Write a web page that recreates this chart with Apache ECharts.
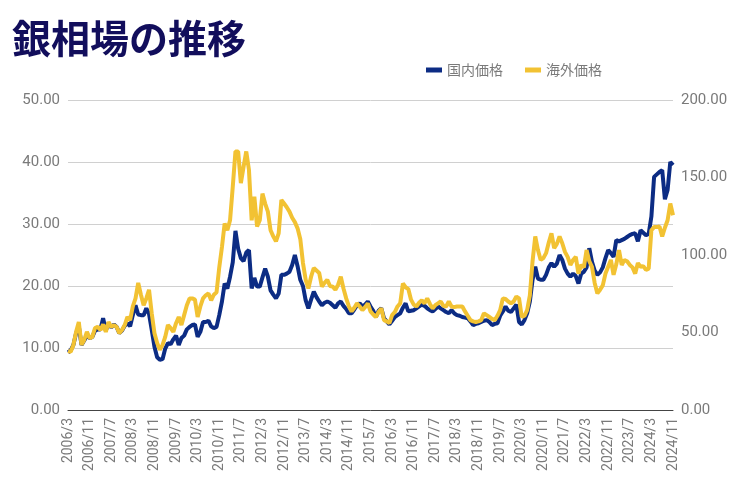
<!DOCTYPE html>
<html>
<head>
<meta charset="utf-8">
<script src="https://cdn.jsdelivr.net/npm/echarts@6/dist/echarts.min.js"></script>
<style>
html,body{margin:0;padding:0;background:#fff;}
#chart{width:750px;height:500px;}
</style>
</head>
<body>
<div id="chart"></div>
<script>
// Months from 2006/3 to 2024/11 (monthly categories)
var startYear = 2006, startMonth = 3, monthCount = 225;
var categories = [];
for (var k = 0; k < monthCount; k++) {
  var m = startMonth - 1 + k;
  categories.push((startYear + Math.floor(m / 12)) + '/' + (m % 12 + 1));
}

var seriesNames = ['国内価格', '海外価格'];

// 国内価格 (right axis, 0-200)
var domestic = [
  37.2,38.4,42.0,49.6,54.0,42.0,44.8,48.0,46.4,47.2,51.2,52.0,52.0,59.2,51.2,56.0,
  53.2,55.2,53.6,49.6,51.2,54.4,56.0,54.0,61.2,67.6,61.6,61.2,61.2,65.6,62.0,51.6,
  40.8,34.0,32.4,32.8,39.6,43.2,42.4,45.6,48.0,42.0,46.4,48.0,52.0,53.6,54.8,55.2,
  47.2,50.4,56.8,56.8,57.6,54.0,52.8,53.6,61.2,70.0,81.6,78.4,86.0,95.2,115.6,104.0,
  98.0,96.0,101.6,103.2,78.4,85.2,79.6,79.6,85.6,91.2,86.0,77.2,74.4,72.0,75.2,87.2,
  87.2,88.0,89.2,93.6,100.0,92.8,84.0,80.0,70.8,65.6,71.2,76.4,72.8,70.0,67.6,69.2,
  70.0,69.2,67.6,66.0,68.8,70.0,67.2,65.2,62.4,62.4,64.8,67.6,68.8,66.8,68.0,70.0,
  66.8,64.0,60.0,64.0,65.6,59.2,57.2,55.2,57.6,60.0,61.2,62.4,66.0,68.8,63.6,64.0,
  64.4,65.6,66.8,68.0,67.2,65.6,64.4,63.6,65.2,66.8,65.6,64.4,63.2,62.4,64.4,62.4,
  61.2,60.8,60.0,59.6,59.2,57.2,54.8,55.6,56.0,56.8,57.6,58.0,56.8,54.8,55.6,56.0,
  60.8,63.6,66.8,64.0,63.2,65.6,68.0,56.8,55.2,58.0,62.4,70.0,84.0,92.4,84.8,84.0,
  84.0,87.2,92.0,94.8,92.4,94.4,100.0,96.8,91.2,88.0,86.0,88.0,86.4,81.6,88.0,89.2,
  92.0,104.4,95.6,90.0,87.2,88.8,92.0,98.0,103.2,101.2,98.8,109.6,108.8,109.6,110.4,111.6,
  112.8,113.6,114.0,108.8,116.0,114.4,112.8,113.6,124.8,150.4,152.0,153.6,154.8,136.0,142.0,160.0,
  158.0
];

// 海外価格 (left axis, 0-50)
var overseas = [
  9.5,9.4,10.5,12.6,14.2,10.5,11.3,12.6,11.6,11.8,13.2,13.4,12.9,13.8,12.6,14.2,
  13.4,13.7,13.4,12.4,12.9,13.7,15.0,14.5,16.7,18.0,20.5,18.6,16.9,18.0,19.4,15.6,
  12.4,10.8,9.7,10.5,11.8,13.7,13.2,12.6,14.0,15.0,13.7,15.3,16.9,18.0,18.0,17.8,
  15.0,16.7,18.0,18.5,18.8,17.7,18.6,19.0,23.0,26.3,30.1,29.0,30.6,36.0,41.7,41.7,
  36.6,39.2,41.7,38.7,30.6,34.4,29.6,30.6,34.9,33.3,32.0,29.0,28.0,27.2,28.5,33.9,
  33.3,32.7,32.0,31.0,30.3,29.3,27.6,23.7,21.0,19.6,21.5,22.9,22.5,22.1,19.9,20.5,
  21.0,20.0,19.9,19.4,20.2,21.5,19.6,18.0,16.7,15.9,16.5,17.2,16.7,16.1,16.6,17.2,
  15.9,15.4,15.0,15.8,16.4,14.5,14.3,14.0,15.3,15.8,16.7,17.2,20.4,19.8,19.5,17.8,
  17.0,16.7,17.3,17.7,17.2,18.0,17.1,16.4,16.9,17.2,17.5,16.8,16.7,17.5,16.7,16.6,
  16.7,16.7,16.7,15.9,15.2,14.5,14.3,14.2,14.3,14.5,15.6,15.3,15.0,14.7,14.5,15.2,
  16.1,18.0,17.9,17.5,17.2,17.5,18.3,18.0,15.0,15.2,16.1,18.5,24.0,28.0,25.8,24.2,
  24.5,25.3,27.0,28.5,26.1,26.8,28.0,26.9,25.5,24.7,23.4,24.2,24.7,22.0,23.4,23.0,
  25.8,24.0,23.1,20.5,18.8,19.4,20.1,22.0,23.1,24.2,21.8,23.5,25.8,23.4,24.2,24.0,
  23.4,23.0,22.0,23.7,23.1,23.2,22.6,22.8,29.0,29.5,29.5,29.6,28.0,29.4,30.6,33.3,
  31.4
];

var leftTicks = {min: 0, max: 50, interval: 10};
var rightTicks = {min: 0, max: 200, interval: 50};

var chart = echarts.init(document.getElementById('chart'));
var labelColor = '#7a7a7a';
chart.setOption({
  backgroundColor: '#ffffff',
  animation: false,
  graphic: [{
    type: 'text',
    left: 12,
    top: 19,
    style: {
      text: '銀相場の推移',
      font: 'bold 39px "Noto Sans CJK JP"',
      fill: '#120e5c'
    }
  }],
  legend: {
    left: 421,
    top: 58,
    itemWidth: 16,
    itemHeight: 5,
    itemGap: 22,
    icon: 'rect',
    textStyle: {color: labelColor, fontSize: 14, fontFamily: '"Noto Sans CJK JP"'},
    data: seriesNames
  },
  grid: {left: 68, right: 77, top: 100, bottom: 90, containLabel: false},
  xAxis: {
    type: 'category',
    boundaryGap: false,
    data: categories,
    axisTick: {show: false},
    axisLine: {lineStyle: {color: '#444', width: 1}},
    axisLabel: {
      interval: 7,
      rotate: 90,
      color: labelColor,
      fontSize: 14,
      fontFamily: 'Roboto',
      margin: 8
    },
    splitLine: {show: false}
  },
  yAxis: [{
    type: 'value',
    position: 'left',
    min: leftTicks.min, max: leftTicks.max, interval: leftTicks.interval,
    axisLine: {show: false},
    axisTick: {show: false},
    axisLabel: {color: labelColor, fontSize: 15, fontFamily: 'Roboto', margin: 8,
      formatter: function (v) { return v.toFixed(2); }},
    splitLine: {lineStyle: {color: '#d0d0d0', width: 1}}
  }, {
    type: 'value',
    position: 'right',
    min: rightTicks.min, max: rightTicks.max, interval: rightTicks.interval,
    axisLine: {show: false},
    axisTick: {show: false},
    axisLabel: {color: labelColor, fontSize: 15, fontFamily: 'Roboto', margin: 8,
      formatter: function (v) { return v.toFixed(2); }},
    splitLine: {show: false}
  }],
  series: [{
    name: seriesNames[0],
    type: 'line',
    yAxisIndex: 1,
    data: domestic,
    showSymbol: false,
    symbol: 'none',
    lineStyle: {color: '#0c2c84', width: 4},
    itemStyle: {color: '#0c2c84'}
  }, {
    name: seriesNames[1],
    type: 'line',
    yAxisIndex: 0,
    data: overseas,
    showSymbol: false,
    symbol: 'none',
    lineStyle: {color: '#f2c233', width: 4},
    itemStyle: {color: '#f2c233'}
  }]
});
</script>
</body>
</html>
